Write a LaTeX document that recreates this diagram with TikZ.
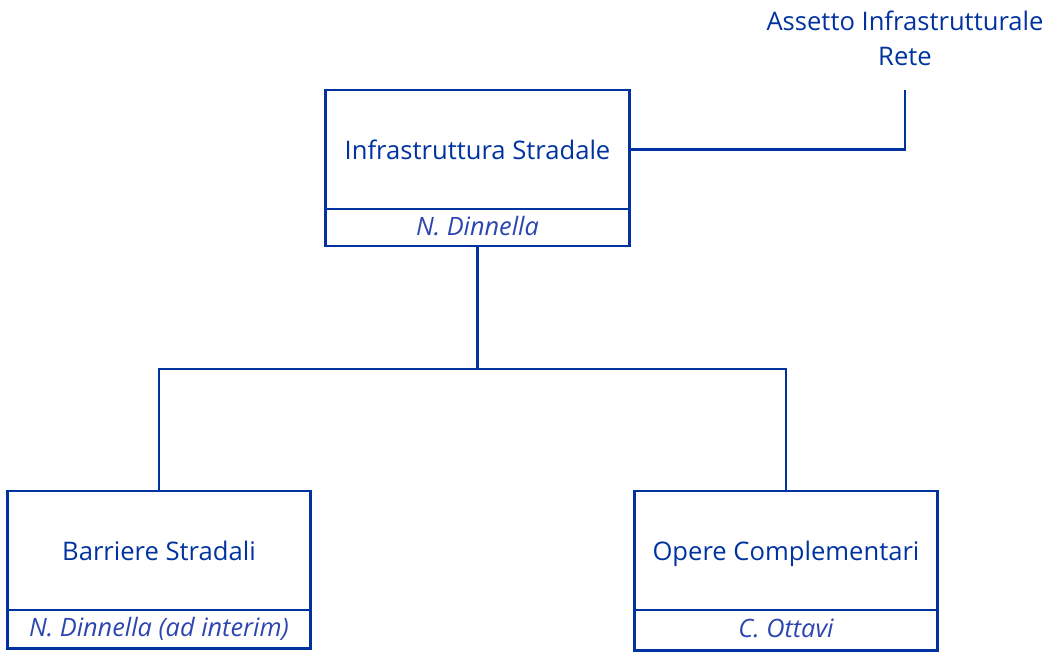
\documentclass[tikz,border=0pt]{standalone}
\usepackage{fontspec}
\setmainfont{Open Sans}
\usepackage{tikz}
\usetikzlibrary{positioning,calc}
\definecolor{orgblue}{RGB}{0,51,160}
\definecolor{namecolor}{RGB}{45,70,175}

\begin{document}
\begin{tikzpicture}[
      x=0.025cm, y=-0.025cm,
      every node/.style={font=\fontsize{18.2}{25}\selectfont, text=orgblue},
      unit/.style={rectangle, draw=orgblue, line width=2.1pt, minimum height=2.975cm,
                   inner sep=0pt, outer sep=0pt, text height=15pt, text depth=1pt},
      head/.style={rectangle, draw=orgblue, line width=2.1pt, minimum height=0.925cm,
                   inner sep=0pt, outer sep=0pt, text height=14pt, text depth=3pt,
                   font=\fontsize{18}{22}\selectfont\itshape, text=namecolor},
      ed/.style={orgblue, line width=2.1pt}
    ]
    \useasboundingbox (0,0) rectangle (1047,655);
    % top unit
    \node[unit, minimum width=7.575cm] (is) at (477.5,149.5) {Infrastruttura Stradale};
    \node[head, minimum width=7.575cm, below=0pt of is] (isn) {N. Dinnella};
    % staff link
    \node[align=center] (ass) at (905,38.5) {Assetto Infrastrutturale\\Rete};
    \coordinate (tip) at (905,90);
    % second level
    \node[unit, minimum width=7.55cm] (bs) at (159,550.5) {Barriere Stradali};
    \node[head, minimum width=7.55cm, minimum height=0.95cm, below=0pt of bs] (bsn) {N. Dinnella (ad interim)};
    \node[unit, minimum width=7.55cm] (oc) at (786,550.5) {Opere Complementari};
    \node[head, minimum width=7.55cm, minimum height=1cm, below=0pt of oc] (ocn) {C. Ottavi};
    % edges
    \coordinate (j) at (477.5,369);
    \draw[ed] (is.east) -| (tip);
    \draw[ed] (isn.south) -- (j);
    \draw[ed] (bs.north) |- (j) -| (oc.north);
  \end{tikzpicture}
\end{document}
